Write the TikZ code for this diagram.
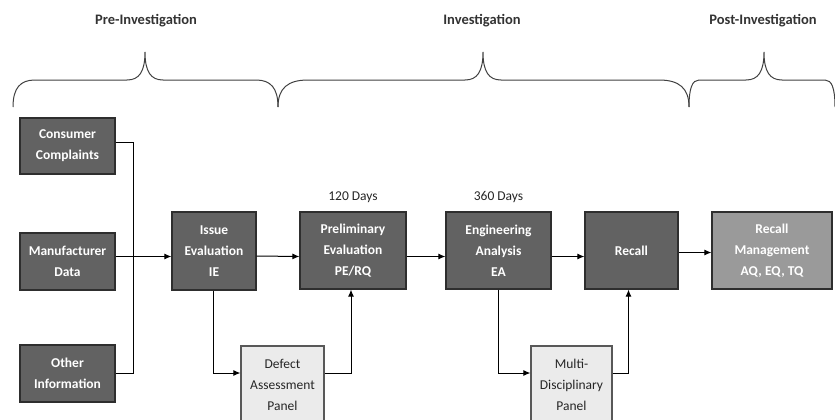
\documentclass[tikz,border=0pt]{standalone}
\usepackage{fontspec}
\setmainfont{Carlito}
\usetikzlibrary{arrows.meta}
\usetikzlibrary{positioning}
\definecolor{stage}{HTML}{626262}
\definecolor{stageline}{HTML}{2e2e2e}
\definecolor{panel}{HTML}{ebebeb}
\definecolor{after}{HTML}{9a9a9a}
\definecolor{ink}{HTML}{333333}

% ── Helper: one phase brace (start, tip, end, end width) ──
\newcommand{\phasebrace}[4]{
    \draw[brace] (#1,107) .. controls (#1,88) and (#1+#4/3,80) .. (#1+#4,80)
        -- (#2-18,80) .. controls (#2-6,80) and (#2,72) .. (#2,52)
        .. controls (#2,72) and (#2+6,80) .. (#2+18,80)
        -- (#3-#4,80) .. controls (#3-#4/3,80) and (#3,88) .. (#3,107);
}

\begin{document}
\begin{tikzpicture}[
    x=1pt, y=-1pt,
    >={Latex[length=7pt, width=6pt]},
    font=\fontsize{13.5}{21}\selectfont,
    box/.style={rectangle, draw=stageline, line width=1.2pt, inner sep=0pt,
                align=center, font=\fontsize{13.5}{21}\selectfont\bfseries},
    stagebox/.style={box, fill=stage, text=white},
    srcbox/.style={stagebox, minimum width=95pt, minimum height=57pt},
    mainbox/.style={stagebox, minimum height=77pt},
    panelbox/.style={box, fill=panel, draw=stageline!80, text=black!85,
                     minimum height=78pt, font=\fontsize{13.5}{21}\selectfont},
    afterbox/.style={box, fill=after, text=white!88, minimum height=77pt},
    link/.style={line width=1pt, black},
    flow/.style={link, ->},
    brace/.style={line width=1pt, black!75},
    phase/.style={font=\fontsize{14.5}{16}\selectfont\bfseries, text=ink},
    days/.style={font=\fontsize{13.5}{15}\selectfont, text=black!85},
]
\useasboundingbox (0,0) rectangle (835,420);

% ── Phases ──
\node[phase] (pre) at (146,21) {Pre-Investigation};
\node[phase] (inv) at (482,21) {Investigation};
\node[phase] (post) at (763,21) {Post-Investigation};

\phasebrace{13}{145}{278}{22}
\phasebrace{278}{483}{689}{30}
\phasebrace{689}{764}{835}{10}

% ── Sources ──
\node[srcbox, minimum height=56pt] (cc) at (67.5,146) {Consumer\\Complaints};
\node[srcbox] (md) at (67.5,261.5) {Manufacturer\\Data};
\node[srcbox] (oi) at (67.5,373.5) {Other\\Information};

% ── Main chain ──
\node[mainbox, minimum width=84pt, minimum height=78pt] (ie) at (214,251) {Issue\\Evaluation\\IE};
\node[mainbox, minimum width=106pt] (pe) at (353,250.5) {Preliminary\\Evaluation\\PE/RQ};
\node[mainbox, minimum width=105pt] (ea) at (498.5,250.5) {Engineering\\Analysis\\EA};
\node[mainbox, minimum width=93pt] (rc) at (631.5,250.5) {Recall};
\node[afterbox, minimum width=120pt] (rm) at (772,250.5) {Recall\\Management\\AQ, EQ, TQ};

\node[days, above=5pt of pe] (pedays) {120 Days};
\node[days, above=5pt of ea] (eadays) {360 Days};

% ── Panels ──
\node[panelbox, minimum width=83pt] (dap) at (282.5,385) {Defect\\Assessment\\Panel};
\node[panelbox, minimum width=81pt] (mdp) at (571.5,385) {Multi-\\Disciplinary\\Panel};

% ── Connectors ──
\draw[link] ([yshift=4pt]cc.east) -- ++(18,0) |- (oi.east);
\draw[flow] ([yshift=5pt]md.east) -- ([yshift=5pt]md.east -| ie.west);
\draw[flow] ([yshift=-5pt]ie.east) -- ([yshift=-6pt]pe.west);
\draw[flow] ([yshift=-6pt]pe.east) -- ([yshift=-6pt]ea.west);
\draw[flow] ([yshift=-6pt]ea.east) -- ([yshift=-6pt]rc.west);
\draw[flow] ([yshift=-2pt]rc.east) -- ([yshift=-2pt]rm.west);

\draw[flow] ([xshift=-1pt]ie.south) |- ([yshift=12pt]dap.west);
\draw[flow] ([yshift=12pt]dap.east) -| ([xshift=-2pt]pe.south);
\draw[flow] (ea.south) |- ([yshift=12pt]mdp.west);
\draw[flow] ([yshift=12pt]mdp.east) -| ([xshift=-3pt]rc.south);

\end{tikzpicture}
\end{document}
